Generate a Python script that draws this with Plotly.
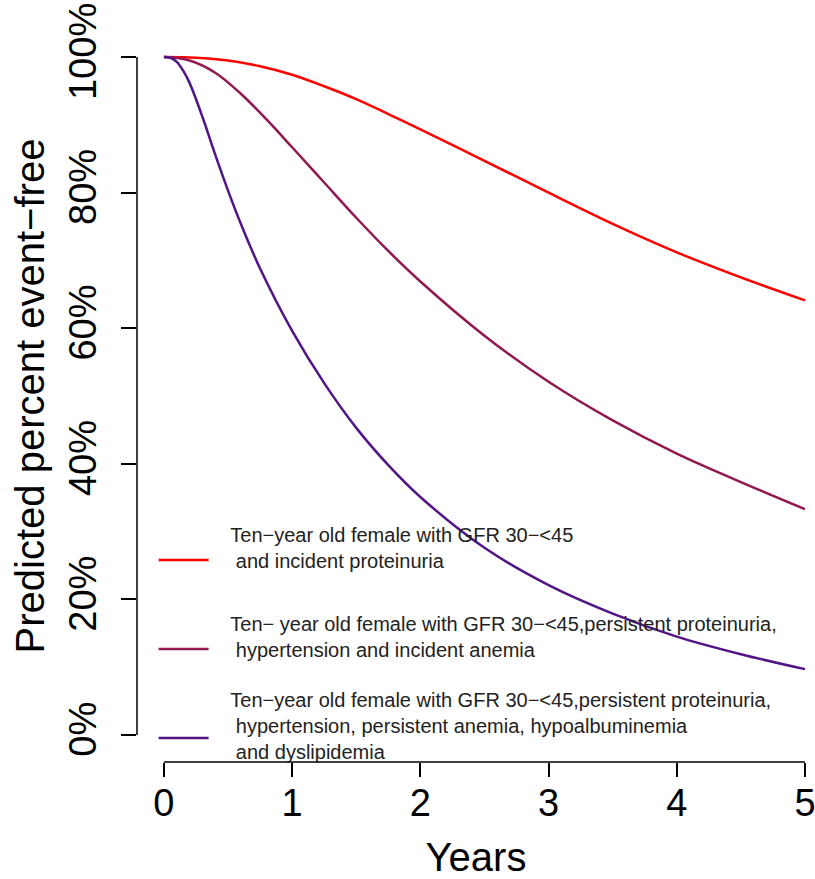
import plotly.graph_objects as go

# ---- data ----
years_red = [0, 0.25, 0.5, 0.75, 1.0, 1.25, 1.5, 1.75, 2.0, 2.5, 3.0, 3.5, 4.0, 4.5, 5.0]
surv_red = [100, 99.9, 99.5, 98.65, 97.4, 95.7, 93.8, 91.6, 89.35, 84.7, 80.0, 75.4, 71.2, 67.5, 64.1]

years_maroon = [0, 0.2, 0.4, 0.6, 0.8, 1.0, 1.25, 1.5, 1.75, 2.0, 2.5, 3.0, 3.5, 4.0, 4.5, 5.0]
surv_maroon = [100, 99.5, 97.7, 94.6, 90.8, 86.7, 81.5, 76.3, 71.4, 66.9, 58.9, 52.1, 46.4, 41.5, 37.3, 33.3]

years_purple = [0, 0.05, 0.1, 0.15, 0.2, 0.3, 0.4, 0.5, 0.6, 0.75, 1.0, 1.25, 1.5, 1.75, 2.0, 2.5, 3.0, 3.5, 4.0, 4.5, 5.0]
surv_purple = [100, 99.9, 99.3, 98.0, 96.2, 91.2, 85.6, 80.3, 75.4, 68.8, 59.6, 51.9, 45.3, 39.8, 35.1, 27.6, 22.1, 17.9, 14.5, 11.9, 9.7]

NB = "\u00a0"
labels = [
    NB * 3 + "Ten\u2212year old female with GFR 30\u2212<45<br>" + NB * 4 + "and incident proteinuria",
    NB * 3 + "Ten\u2212 year old female with GFR 30\u2212<45,persistent proteinuria,<br>" + NB * 4 + "hypertension and incident anemia",
    NB * 3 + "Ten\u2212year old female with GFR 30\u2212<45,persistent proteinuria,<br>" + NB * 4
    + "hypertension, persistent anemia, hypoalbuminemia<br>" + NB * 4 + "and dyslipidemia<br>" + NB,
]
colors = ["#FF0000", "#911850", "#521585"]
legend_ids = ["legend", "legend2", "legend3"]

x_ticks = [0, 1, 2, 3, 4, 5]
y_ticks = [0, 20, 40, 60, 80, 100]
y_ticktext = ["0%", "20%", "40%", "60%", "80%", "100%"]

FONT = "Liberation Sans, Arial, sans-serif"

fig = go.Figure()
series = [(years_red, surv_red), (years_maroon, surv_maroon), (years_purple, surv_purple)]
for (xs, ys), name, col, lg in zip(series, labels, colors, legend_ids):
    fig.add_trace(go.Scatter(
        x=xs, y=ys, mode="lines", name=name, legend=lg,
        line=dict(color=col, width=2.5, shape="spline", smoothing=1.0),
    ))

# R-style axis lines spanning only the tick range
fig.add_shape(type="line", xref="x", yref="paper", x0=x_ticks[0], x1=x_ticks[-1], y0=0, y1=0,
              line=dict(color="black", width=1.5))
fig.add_shape(type="line", xref="paper", yref="y", x0=0, x1=0, y0=y_ticks[0], y1=y_ticks[-1],
              line=dict(color="black", width=1.5))

legend_common = dict(
    x=0.0245, xanchor="left", yanchor="top",
    bgcolor="rgba(0,0,0,0)", borderwidth=0,
    font=dict(family=FONT, size=20, color="#222"),
    itemwidth=50,
)

fig.update_layout(
    width=815, height=879,
    margin=dict(l=137, r=0, t=30, b=117),
    paper_bgcolor="white", plot_bgcolor="white",
    font=dict(family=FONT, color="black"),
    showlegend=True,
    legend=dict(legend_common, y=0.338, valign="bottom"),
    legend2=dict(legend_common, y=0.2164, valign="bottom"),
    legend3=dict(legend_common, y=0.1126, valign="middle"),
    xaxis=dict(
        range=[-0.21, 5.078], tickvals=x_ticks, ticks="outside", ticklen=14, tickwidth=1.5,
        tickcolor="black", showline=False, showgrid=False, zeroline=False,
        tickfont=dict(size=38, family=FONT), ticklabelstandoff=-7, ticklabeloverflow="allow",
        title=dict(text="Years", font=dict(size=40, family=FONT), standoff=20),
        automargin=False,
    ),
    yaxis=dict(
        range=[-4, 104], tickvals=y_ticks, ticktext=y_ticktext, tickangle=-90,
        ticks="outside", ticklen=15, tickwidth=1.5, tickcolor="black",
        showline=False, showgrid=False, zeroline=False,
        tickfont=dict(size=38, family=FONT), ticklabelstandoff=10, ticklabeloverflow="allow",
        title=dict(text="Predicted percent event\u2212free", font=dict(size=40, family=FONT), standoff=4),
        automargin=False,
    ),
)

fig.write_html("out.html", config={"displayModeBar": False},
               post_script="document.body.style.margin='0';")
